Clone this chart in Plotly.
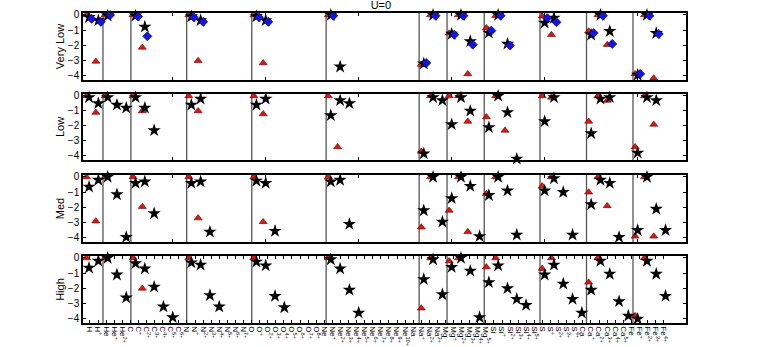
import plotly.graph_objects as go

N = None

# --- categories (ions, grouped by element)
elements = ["H", "He", "C", "N", "O", "Ne", "Na", "Mg", "Si", "S", "Ca", "Fe"]
n_ions = [2, 3, 6, 7, 8, 10, 3, 4, 6, 5, 5, 6]

# the axis labels of the original run on their own, slightly tighter spacing
label_elements = ["H", "He", "C", "N", "O", "Ne", "Na", "Mg", "Si", "S", "Ca", "Fe"]
label_counts = [2, 3, 7, 8, 9, 11, 4, 6, 6, 5, 6, 5]
tick_labels = []
for el, n in zip(label_elements, label_counts):
    for k in range(n):
        if k == 0:
            tick_labels.append(el)
        elif k == 1:
            tick_labels.append(f"{el}<sup>+</sup>")
        else:
            tick_labels.append(f"{el}<sup>{k}+</sup>")

row_names = ["Very Low", "Low", "Med", "High"]

# --- log ion fractions, one list per row and model (blocks: H|He|C|N|O|Ne|Na|Mg|Si|S|Ca|Fe)
vlow_tri = ([0, -3.05] + [0, N, N] + [0, -2.13, N, N, N, N] + [0, -3.0, N, N, N, N, N]
            + [0, -3.15, N, N, N, N, N, N] + [0, N, N, N, N, N, N, N, N, N] + [-3.25, 0, N]
            + [-1.2, 0, -3.87, N] + [-0.85, -0.05, N, N, N, N] + [-0.08, -1.3, N, N, N]
            + [-1.07, 0, -1.95, N, N] + [-3.87, 0, -4.15, N, N, N])
vlow_star = ([-0.15, -0.36] + [-0.05, N, N] + [-0.05, -0.78, N, N, N, N] + [-0.1, -0.35, N, N, N, N, N]
             + [-0.1, -0.35, N, N, N, N, N, N] + [0, -3.4, N, N, N, N, N, N, N, N] + [-3.2, 0, N]
             + [-1.25, 0, -1.73, N] + [-1.18, 0, -1.9, N, N, N] + [-0.52, -0.2, N, N, N]
             + [-1.3, 0, -1.07, N, N] + [-3.94, 0, -1.2, N, N, N])
vlow_dia = ([-0.25, -0.45] + [0, N, N] + [-0.1, -1.4, N, N, N, N] + [-0.15, -0.45, N, N, N, N, N]
            + [-0.15, -0.45, N, N, N, N, N, N] + [-0.05, N, N, N, N, N, N, N, N, N] + [-3.15, -0.05, N]
            + [-1.3, -0.05, -1.95, N] + [-1.03, -0.05, -2.0, N, N, N] + [-0.2, -0.48, N, N, N]
            + [-1.18, -0.05, -1.9, N, N] + [-3.87, -0.05, -1.25, N, N, N])

low_tri = ([0, -1.1] + [0, N, N] + [0, -1.0, N, N, N, N] + [0, -1.0, N, N, N, N, N]
           + [0, -1.2, N, N, N, N, N, N] + [0, -3.4, N, N, N, N, N, N, N, N] + [-3.7, 0, N]
           + [0, 0, -1.7, N] + [-1.4, 0, -2.3, N, N, N] + [0, -0.1, N, N, N]
           + [-1.7, 0, -0.3, N, N] + [-3.4, 0, -1.9, N, N, N])
low_star = ([-0.1, -0.5] + [-0.1, -0.6, -0.8] + [-0.1, -0.8, -2.3, N, N, N] + [-0.6, -0.2, N, N, N, N, N]
            + [-0.6, -0.2, N, N, N, N, N, N] + [-1.3, -0.3, -0.5, N, N, N, N, N, N, N] + [-3.85, -0.1, -0.3]
            + [-1.9, -0.1, -1.0, N] + [-2.1, 0, -1.1, -4.2, N, N] + [-1.7, -0.1, N, N, N]
            + [-2.5, -0.2, -0.1, N, N] + [-3.8, -0.1, -0.3, N, N, N])

med_tri = ([0, -2.9] + [0, N, N] + [0, -1.95, N, N, N, N] + [0, -2.7, N, N, N, N, N]
           + [0, -2.95, N, N, N, N, N, N] + [0, N, N, N, N, N, N, N, N, N] + [-3.3, 0, N]
           + [-2.2, 0, -3.6, N] + [-1.1, 0, N, N, N, N] + [-0.6, 0, N, N, N]
           + [-1.0, 0, -1.9, N, N] + [-3.9, 0, -3.9, N, N, N])
med_star = ([-0.65, -0.2] + [0, -1.15, -3.95] + [-0.4, -0.3, -2.4, N, N, N] + [-0.4, -0.3, -3.6, N, N, N, N]
            + [-0.25, -0.4, -3.55, N, N, N, N, N] + [-0.3, -0.2, -3.1, N, N, N, N, N, N, N] + [-2.2, 0, -2.95]
            + [-1.4, 0, -0.6, -3.9] + [-1.2, 0, -0.9, -3.8, N, N] + [-0.9, -0.1, -1.0, -3.8, N]
            + [-1.8, -0.2, -0.4, -3.95, N] + [-3.5, 0, -2.1, -3.5, N, N])

high_tri = ([0, N] + [0, N, N] + [0, -2.0, N, N, N, N] + [0, N, N, N, N, N, N]
            + [0, N, N, N, N, N, N, N] + [0, N, N, N, N, N, N, N, N, N] + [-3.3, 0, N]
            + [-0.2, 0, N, N] + [-0.6, 0, N, N, N, N] + [-0.7, 0, N, N, N]
            + [-1.6, 0, N, N, N] + [-3.8, 0, N, N, N, N])
high_star = ([-0.65, -0.2] + [0, -1.1, -2.6] + [-0.35, -0.7, -1.9, -3.2, -3.9, N]
             + [-0.3, -0.45, -2.45, -3.2, N, N, N] + [-0.25, -0.5, -2.5, -3.25, N, N, N, N]
             + [-0.1, -0.7, -2.1, -3.6, N, N, N, N, N, N] + [-1.4, -0.1, -2.4]
             + [-0.6, 0, -0.85, -3.9] + [-1.6, -0.5, -2.0, -2.7, -3.1, N] + [-1.1, -0.45, -1.7, -2.7, -3.6]
             + [-2.1, -0.2, -1.05, -2.85, -3.8] + [-4.0, -0.2, -1.05, -2.5, N, N])

rows_data = [
    (vlow_tri, vlow_star, vlow_dia),
    (low_tri, low_star, None),
    (med_tri, med_star, None),
    (high_tri, high_star, None),
]

n_cat = sum(n_ions)
idx = list(range(n_cat))

# element separators, between blocks
sep_pos = []
c = 0
for n in n_ions[:-1]:
    c += n
    sep_pos.append(c - 0.5)

lab_step = 0.869
lab_pos = [0.1 + k * lab_step for k in range(len(tick_labels))]

H = 347.0
row_px = [(13, 80), (94, 160), (175, 242), (256, 323)]

fig = go.Figure()
font = "Liberation Sans, Arial, sans-serif"

for r, (tri, star, dia) in enumerate(rows_data):
    xa = "x" if r == 0 else f"x{r + 1}"
    ya = "y" if r == 0 else f"y{r + 1}"
    fig.add_trace(go.Scatter(x=[i - 0.27 for i in idx], y=tri, mode="markers", xaxis=xa, yaxis=ya,
                             marker=dict(symbol="triangle-up", size=7, color="#e8120c",
                                         line=dict(color="#5a0000", width=0.6)),
                             showlegend=False, cliponaxis=False))
    fig.add_trace(go.Scatter(x=idx, y=star, mode="markers", xaxis=xa, yaxis=ya,
                             marker=dict(symbol="star", size=10, color="black"),
                             showlegend=False, cliponaxis=False))
    if dia is not None:
        fig.add_trace(go.Scatter(x=[i + 0.27 for i in idx], y=dia, mode="markers", xaxis=xa, yaxis=ya,
                                 marker=dict(symbol="diamond", size=7, color="#1414e6",
                                             line=dict(color="#00004a", width=0.6)),
                                 showlegend=False, cliponaxis=False))

    top, bot = row_px[r]
    last = r == 3
    fig.update_layout(**{
        ("xaxis" if r == 0 else f"xaxis{r + 1}"): dict(
            domain=[0, 1], anchor=ya, range=[-0.65, 64.2], showgrid=False, zeroline=False,
            showline=True, linecolor="black", linewidth=1.5, mirror="ticks",
            ticks="inside", ticklen=3, tickcolor="black",
            tickmode="array",
            tickvals=lab_pos if last else [9, 19, 29, 39, 49, 59],
            ticktext=tick_labels if last else None,
            showticklabels=last, tickangle=90,
            tickfont=dict(size=8, family=font, color="black"),
        ),
        ("yaxis" if r == 0 else f"yaxis{r + 1}"): dict(
            domain=[1 - bot / H, 1 - top / H], anchor=xa, range=[-4.27, 0.13],
            showgrid=False, zeroline=False, showline=True, linecolor="black", linewidth=1.5,
            mirror="ticks", ticks="inside", ticklen=3, tickcolor="black",
            tickvals=[0, -1, -2, -3, -4], tickfont=dict(size=10, family=font, color="black"),
            title=dict(text=row_names[r], font=dict(size=11, family=font, color="black"), standoff=1),
        ),
    })
    for s in sep_pos:
        fig.add_shape(type="line", xref=xa, yref=f"{ya} domain", x0=s, x1=s, y0=0, y1=1,
                      line=dict(color="#555555", width=1.3), layer="below")

fig.update_layout(
    width=763, height=347, template="none",
    margin=dict(l=83, r=77, t=0, b=0, autoexpand=False),
    paper_bgcolor="white", plot_bgcolor="white",
    title=dict(text="U=0", xref="paper", x=0.494, xanchor="center", y=0.997, yanchor="top",
               font=dict(size=11, family=font, color="black")),
)

# page body has a default 8px margin; drop it so the figure sits at the window corner
fig.write_html("out.html", config={"displayModeBar": False},
               post_script="document.body.style.margin='0px';")
